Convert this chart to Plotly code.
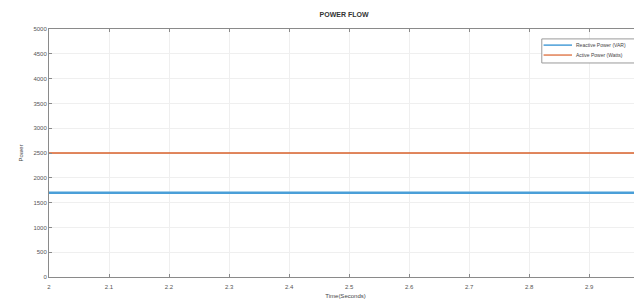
import plotly.graph_objects as go

# Data
time_s = [2.0, 2.1, 2.2, 2.3, 2.4, 2.5, 2.6, 2.7, 2.8, 2.9, 3.0]
reactive_power = [1700] * 11
active_power = [2500] * 11
x_ticks = [2, 2.1, 2.2, 2.3, 2.4, 2.5, 2.6, 2.7, 2.8, 2.9, 3]
x_tick_labels = ["2", "2.1", "2.2", "2.3", "2.4", "2.5", "2.6", "2.7", "2.8", "2.9", "3"]
y_ticks = [0, 500, 1000, 1500, 2000, 2500, 3000, 3500, 4000, 4500, 5000]
series_names = ["Reactive Power (VAR)", "Active Power (Watts)"]
series_colors = ["#4a9fd8", "#d9602a"]

fig = go.Figure()
fig.add_trace(go.Scatter(x=time_s, y=reactive_power, mode="lines",
                         name=series_names[0],
                         line=dict(color=series_colors[0], width=2.5)))
fig.add_trace(go.Scatter(x=time_s, y=active_power, mode="lines",
                         name=series_names[1],
                         line=dict(color=series_colors[1], width=1.5)))

axis_common = dict(showline=True, linecolor="#8a8a8a", linewidth=1,
                   ticks="inside", ticklen=3, tickcolor="#8a8a8a",
                   showgrid=True, gridcolor="#efefef", gridwidth=1,
                   zeroline=False, tickfont=dict(size=6, color="#555"))

# Custom compact legend (MATLAB style) in paper coordinates
leg_x0, leg_y0, leg_y1 = 0.831, 0.863, 0.960
entry_y = [0.935, 0.895]
shapes = [dict(type="rect", xref="paper", yref="paper", x0=leg_x0, x1=1.05,
               y0=leg_y0, y1=leg_y1, line=dict(color="#9a9a9a", width=1),
               fillcolor="white", layer="above")]
annotations = []
for name, color, ey, w in zip(series_names, series_colors, entry_y, [1.5, 1.2]):
    shapes.append(dict(type="line", xref="paper", yref="paper", x0=0.834, x1=0.882,
                       y0=ey, y1=ey, line=dict(color=color, width=w), layer="above"))
    annotations.append(dict(xref="paper", yref="paper", x=0.885, y=ey, text=name,
                            showarrow=False, xanchor="left", yanchor="middle",
                            font=dict(size=5, color="#444")))

fig.update_layout(
    width=634, height=294,
    margin=dict(l=41, r=0, t=21, b=25),
    paper_bgcolor="white", plot_bgcolor="white",
    font=dict(family="Liberation Sans, Arial, sans-serif", color="#444"),
    title=dict(text="<b>POWER FLOW</b>", x=0.53, xanchor="center",
               y=0.978, yanchor="middle", font=dict(size=7, color="#333")),
    xaxis=dict(range=[2, 2.988], tickvals=x_ticks, ticktext=x_tick_labels,
               mirror="ticks", ticklabelstandoff=4,
               title=dict(text="Time(Seconds)", font=dict(size=6, color="#444"), standoff=4),
               **axis_common),
    yaxis=dict(range=[0, 5000], tickvals=y_ticks, mirror=False,
               title=dict(text="Power", font=dict(size=6, color="#444"), standoff=9),
               **axis_common),
    shapes=shapes,
    annotations=annotations,
    showlegend=False,
)

fig.write_html("out.html")
